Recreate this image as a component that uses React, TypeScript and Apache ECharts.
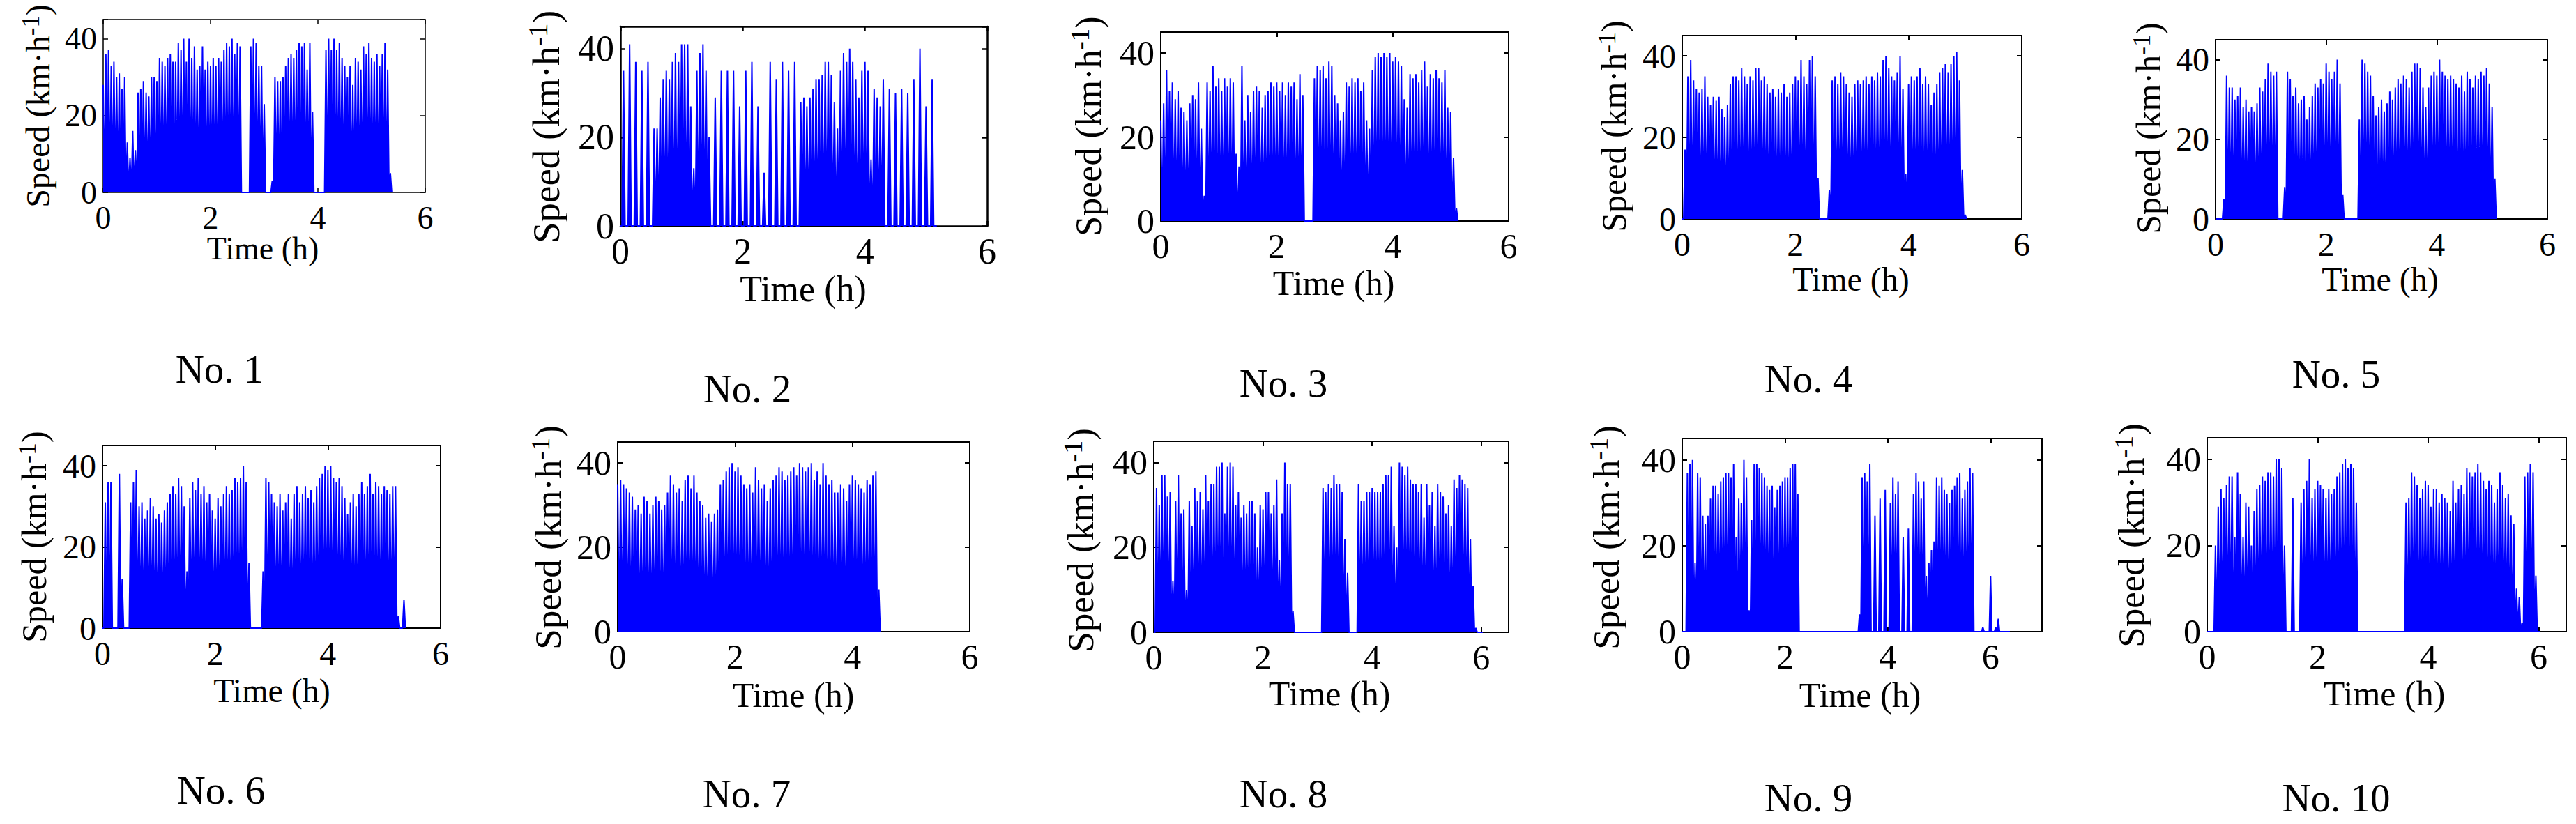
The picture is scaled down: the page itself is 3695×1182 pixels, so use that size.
import React, { useEffect, useRef } from "react";
import * as echarts from "echarts";

const SAMPLE_STEP_H = 0.05;
const panelTitles = ["No. 1", "No. 2", "No. 3", "No. 4", "No. 5", "No. 6", "No. 7", "No. 8", "No. 9", "No. 10"];
const xTickLabels = [0, 2, 4, 6];
const yTickLabels = [0, 20, 40];
const xMaxH = [6, 6, 6, 6, 6, 6, 6, 6.5, 7, 6.5];
const yMaxKmh = 45;

const speedNo1 = [28,36,37,33,34,30,31,27,30,13, 9,16,11,26,27,29,26,25,30,30, 29,35,34,33,35,36,34,34,39,37,
  40,34,40,35,38,32,33,38,32,34, 33,35,33,35,34,37,39,38,40,36, 39,38,0,0,0,38,40,39,33,33,
  23,0,0,3,30,29,29,30,33,35, 36,35,37,39,38,39,32,39,21,0, 0,0,0,37,40,37,40,37,39,35,
  33,30,33,28,35,34,32,38,36,39, 35,34,36,33,36,39,32,5];
const speedNo2 = [0,35,0,41,0,37,0,35,0,37, 0,22,22,29,33,35,33,37,39,37, 41,41,41,27,13,35,39,41,35,20,
  0,29,0,35,0,35,0,35,0,27, 0,35,0,37,0,27,0,12,0,37, 0,33,0,37,0,35,0,37,0,28,
  29,27,29,31,33,33,34,37,37,34, 28,22,35,39,37,40,37,33,29,35, 37,35,15,31,29,27,33,0,31,0,
  30,0,31,0,30,0,33,0,40,0, 27,0,33,0];
const speedNo3 = [24,28,36,31,33,29,31,27,26,24, 28,30,29,33,22,6,33,31,37,32, 34,31,34,32,34,33,16,13,37,24,
  30,26,31,32,31,27,30,31,33,32, 33,31,33,30,33,32,33,29,35,30, 0,0,0,34,37,36,37,34,38,37,
  30,28,24,26,33,32,34,33,34,31, 33,24,22,36,39,40,39,40,39,40, 38,39,38,37,29,27,35,34,35,33,
  36,38,32,35,34,36,34,33,36,27, 26,15,3];
const speedNo4 = [0,17,35,39,34,32,31,32,35,30, 28,30,29,30,27,25,28,33,35,35, 34,37,35,33,35,34,37,37,34,35,
  33,31,32,30,32,31,33,30,31,33, 35,34,39,35,33,39,40,35,10,0, 0,0,7,34,35,33,36,35,33,31,
  30,33,34,33,34,35,33,35,34,36, 35,39,40,37,35,34,36,40,32,11, 33,35,34,35,37,33,35,33,28,31,
  33,36,37,38,36,38,40,41,34,12, 1];
const speedNo5 = [0,0,0,5,36,33,33,30,31,33, 28,30,27,28,27,29,33,32,35,39, 37,36,37,0,0,8,37,35,31,33,
  29,30,31,25,28,31,34,33,35,34, 39,37,35,37,40,34,6,0,0,0, 0,0,25,40,39,37,36,31,26,28,
  30,27,29,32,30,33,35,34,36,35, 33,37,39,39,38,33,28,33,36,37, 36,40,37,36,35,36,35,34,33,36,
  32,37,35,33,36,35,37,36,38,34, 28,10];
const speedNo6 = [0,31,36,36,0,0,38,12,0,0, 31,36,39,30,31,27,29,32,30,27, 28,26,29,31,33,35,33,37,35,30,
  14,32,36,34,37,33,35,31,33,29, 27,32,30,33,35,33,34,37,36,37, 40,36,16,0,0,0,0,14,37,36,
  33,31,30,33,29,31,33,27,33,35, 31,33,35,32,34,31,35,37,38,40, 39,40,37,36,37,35,32,28,31,33,
  30,33,36,33,35,38,33,36,35,33, 35,34,33,35,35,3,0,7];
const speedNo7 = [35,36,35,34,33,32,29,30,28,32, 31,28,30,32,31,29,30,33,37,35, 33,34,31,36,37,34,37,33,31,30,
  27,28,26,28,29,35,36,38,39,40, 38,39,37,35,34,35,33,39,36,34, 35,31,34,36,37,39,38,36,37,38,
  39,37,40,39,38,39,40,36,38,35, 40,37,35,36,33,33,35,34,31,35, 37,36,35,34,33,36,35,37,38,10];
const speedNo8 = [0,34,30,37,37,32,33,12,31,37, 28,29,10,31,25,34,31,33,29,37, 31,35,35,39,39,40,28,39,40,39,
  30,33,27,30,28,31,31,28,20,30, 29,33,33,28,30,36,17,28,40,35, 35,5,0,0,0,0,0,0,0,0,
  0,0,34,33,35,34,37,35,35,33, 22,14,0,0,0,35,31,31,33,33, 34,33,33,33,35,37,37,39,25,20,
  40,39,37,39,36,35,35,33,35,27, 35,30,33,25,35,33,32,28,30,25, 36,34,37,36,35,34,22,11,1,0, 0];
const speedNo9 = [0,0,37,39,40,16,37,36,27,25, 27,31,34,34,32,35,36,37,37,36, 39,22,31,30,40,36,5,26,39,39,
  38,37,36,34,33,34,29,33,34,35, 36,36,38,39,39,32,0,0,0,0, 0,0,0,0,0,0,0,0,0,0,
  0,0,0,0,0,0,0,0,0,4, 36,37,35,39,0,27,0,31,0,33, 0,30,36,32,35,0,22,0,24,0,
  32,37,35,31,35,13,16,19,21,36, 34,36,33,32,30,33,34,36,37,31, 33,35,38,37,0,0,0,1,0,0,
  13,0,1,3,0,0,0,0];
const speedNo10 = [0,0,0,20,29,33,31,34,36,36, 22,37,32,22,30,29,20,28,33,34, 36,35,37,37,36,40,40,38,20,0,
  0,31,0,0,30,33,35,40,31,33, 35,34,33,31,33,32,33,36,37,39, 40,38,39,38,30,0,0,0,0,0,
  0,0,0,0,0,0,0,0,0,0, 0,0,30,31,37,36,34,31,33,35, 34,29,33,33,30,32,31,30,28,35,
  30,33,34,32,38,37,36,37,39,37, 35,33,35,34,30,33,37,34,31,32, 27,25,10,8,2,36,37,39,37,13, 0];

const speeds = [speedNo1, speedNo2, speedNo3, speedNo4, speedNo5, speedNo6, speedNo7, speedNo8, speedNo9, speedNo10];

// ---------- layout / style (pixels) ----------
const SERIF = "'Liberation Serif', 'Times New Roman', serif";
const BLUE = "#0000ff";
const gridBoxes = [
  { left: 148, top: 28, width: 462, height: 248 },
  { left: 890, top: 38, width: 526, height: 286 },
  { left: 1665, top: 46, width: 499, height: 271 },
  { left: 2413, top: 51, width: 487, height: 263 },
  { left: 3178, top: 57, width: 476, height: 257 },
  { left: 147, top: 639, width: 485, height: 262 },
  { left: 886, top: 634, width: 505, height: 272 },
  { left: 1655, top: 633, width: 509, height: 274 },
  { left: 2413, top: 629, width: 516, height: 277 },
  { left: 3166, top: 628, width: 515, height: 278 },
];
const tickFont = [46, 52, 50, 48, 48, 48, 50, 50, 50, 50];
const speedLabelFont = [48, 55, 52, 50, 50, 50, 53, 53, 53, 53];
const axisWidth = [1.5, 2.5, 2, 2, 2, 2, 2, 2, 2, 2];
const traceWidth = [2, 2, 2, 2, 2, 2, 2, 2, 2, 2];
const speedLabelPos = [[54, 152], [783, 182], [1561, 181], [2315, 181], [3082, 184], [49, 770], [786, 771], [1550, 775], [2304, 771], [3057, 768]];
const timeLabelPos = [[377, 356], [1152, 414], [1913, 406], [2655, 400], [3414, 400], [390, 990], [1138, 997], [1907, 995], [2668, 997], [3420, 995]];
const titlePos = [[315, 529], [1072, 557], [1841, 549], [2594, 543], [3351, 536], [317, 1133], [1071, 1138], [1841, 1138], [2594, 1144], [3351, 1144]];
const TITLE_FONT = 57;

function buildTrace(values: number[]) {
  const pts: number[][] = [];
  values.forEach((v, i) => {
    const t = i * SAMPLE_STEP_H;
    pts.push([t, v]);
    pts.push([t + SAMPLE_STEP_H / 2, 0]);
  });
  return pts;
}

function buildOption() {
  const grid: any[] = [];
  const xAxis: any[] = [];
  const yAxis: any[] = [];
  const series: any[] = [];
  const graphic: any[] = [];
  const xStep = xTickLabels[1] - xTickLabels[0];
  const yStep = yTickLabels[1] - yTickLabels[0];

  speeds.forEach((vals, i) => {
    const lw = axisWidth[i];
    const line = { show: true, onZero: false, lineStyle: { color: "#000", width: lw } };
    const tick = { show: true, inside: true, length: 7, lineStyle: { color: "#000", width: lw } };
    grid.push({ ...gridBoxes[i], containLabel: false, show: false });
    const xLabel = {
      show: true, color: "#000", fontFamily: SERIF, fontSize: tickFont[i], margin: 34 - tickFont[i] / 2 + 2,
      formatter: (v: number) => (xTickLabels.includes(v) ? String(v) : ""),
    };
    const yLabel = {
      show: true, color: "#000", fontFamily: SERIF, fontSize: tickFont[i], margin: 9,
      formatter: (v: number) => (yTickLabels.includes(v) ? String(v) : ""),
    };
    xAxis.push({ gridIndex: i, type: "value", position: "bottom", min: 0, max: xMaxH[i], interval: xStep,
      axisLine: line, axisTick: tick, axisLabel: xLabel, splitLine: { show: false } });
    xAxis.push({ gridIndex: i, type: "value", position: "top", min: 0, max: xMaxH[i], interval: xStep,
      axisLine: line, axisTick: tick, axisLabel: { show: false }, splitLine: { show: false } });
    yAxis.push({ gridIndex: i, type: "value", position: "left", min: 0, max: yMaxKmh, interval: yStep,
      axisLine: line, axisTick: tick, axisLabel: yLabel, splitLine: { show: false } });
    yAxis.push({ gridIndex: i, type: "value", position: "right", min: 0, max: yMaxKmh, interval: yStep,
      axisLine: line, axisTick: tick, axisLabel: { show: false }, splitLine: { show: false } });

    series.push({
      type: "line", xAxisIndex: 2 * i, yAxisIndex: 2 * i, data: buildTrace(vals),
      showSymbol: false, symbol: "none", clip: false, silent: true, z: 3,
      lineStyle: { color: BLUE, width: traceWidth[i], join: "bevel" },
      areaStyle: { color: BLUE, opacity: 1 },
    });

    const sf = speedLabelFont[i];
    graphic.push({
      type: "text", x: speedLabelPos[i][0], y: speedLabelPos[i][1], rotation: Math.PI / 2, silent: true,
      style: {
        text: "{a|Speed (km·h}{s|-1}{a|)}",
        align: "center", verticalAlign: "middle",
        rich: {
          a: { fontFamily: SERIF, fontSize: sf, fill: "#000", lineHeight: Math.round(sf * 1.15) },
          s: { fontFamily: SERIF, fontSize: Math.round(sf * 0.72), fill: "#000", verticalAlign: "top" },
        },
      },
    });
    graphic.push({
      type: "text", x: timeLabelPos[i][0], y: timeLabelPos[i][1], silent: true,
      style: { text: "Time (h)", fontFamily: SERIF, fontSize: tickFont[i], fill: "#000", align: "center", verticalAlign: "middle" },
    });
    graphic.push({
      type: "text", x: titlePos[i][0], y: titlePos[i][1], silent: true,
      style: { text: panelTitles[i], fontFamily: SERIF, fontSize: TITLE_FONT, fill: "#000", align: "center", verticalAlign: "middle" },
    });
  });

  return {
    animation: false,
    backgroundColor: "#ffffff",
    textStyle: { fontFamily: SERIF },
    grid, xAxis, yAxis, series, graphic,
  };
}

export default function App() {
  const ref = useRef<HTMLDivElement>(null);
  useEffect(() => {
    if (!ref.current) return;
    const chart = echarts.init(ref.current, null, { renderer: "svg" });
    chart.setOption(buildOption() as any);
    return () => chart.dispose();
  }, []);
  return (
    <div
      ref={ref}
      style={{ position: "fixed", left: 0, top: 0, width: 3695, height: 1182, background: "#fff" }}
    />
  );
}
